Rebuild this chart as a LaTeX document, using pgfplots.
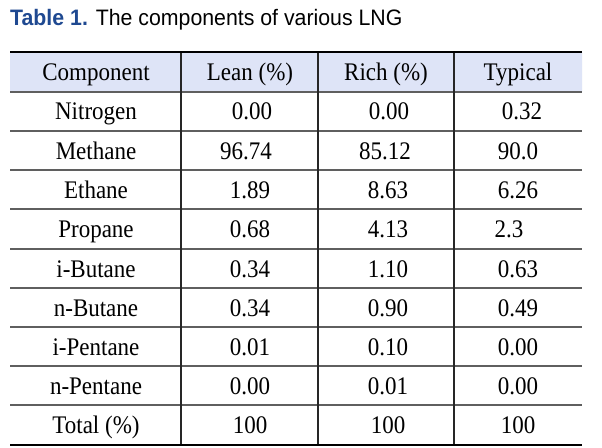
\documentclass[border=0pt]{standalone}
\usepackage{fontspec}
\setmainfont{Liberation Serif}
\newfontfamily\arialfont{Liberation Sans}
\usepackage{pgfplots}
\pgfplotsset{compat=1.18}
\definecolor{ttlblue}{RGB}{31,73,145}
\definecolor{hdrfill}{RGB}{222,228,247}
\definecolor{rule}{RGB}{95,95,95}
\begin{document}
\begin{tikzpicture}
\begin{axis}[
  width=602bp, height=448bp, scale only axis,
  xmin=0, xmax=602, ymin=0, ymax=448, y dir=reverse,
  hide axis, clip=false,
  every node near coord/.style={anchor=base, inner sep=0pt, yscale=1.1,
     font=\fontsize{23bp}{26bp}\selectfont, text=black},
]
% background
\addplot[draw=none, fill=white] coordinates {(0,0) (602,0) (602,448) (0,448) (0,0)};
% header fill
\addplot[draw=none, fill=hdrfill] coordinates {(10,52) (582,52) (582,92) (10,92) (10,52)};
% inner horizontal rules
\foreach \yy in {92,131,170,209,249,288,327,366,405} {
  \edef\temp{\noexpand\addplot[rule, line width=1.3bp, mark=none] coordinates {(10,\yy) (582,\yy)};}
  \temp
}
% vertical rules
\foreach \xx in {181,318,454} {
  \edef\temp{\noexpand\addplot[black!85, line width=1.1bp, mark=none] coordinates {(\xx,52) (\xx,445)};}
  \temp
}
% top and bottom rules
\addplot[black, line width=1.5bp, mark=none] coordinates {(10,52) (582,52)};
\addplot[black, line width=1.8bp, mark=none] coordinates {(10,445) (582,445)};
% cell texts
\addplot[draw=none, mark=none, nodes near coords, point meta=explicit symbolic] coordinates {
 (96,81) [Component] (250,81) [Lean (\%)] (386,81) [Rich (\%)] (518,81) [Typical]
 (96,120) [Nitrogen] (252,120) [0.00] (389,120) [0.00] (522,120) [0.32]
 (96,159) [Methane] (246,159) [96.74] (385,159) [85.12] (518,159) [90.0]
 (96,198) [Ethane] (250,198) [1.89] (388,198) [8.63] (518,198) [6.26]
 (96,237.5) [Propane] (250,237.5) [0.68] (388,237.5) [4.13] (509,237.5) [2.3]
 (96,277) [i-Butane] (250,277) [0.34] (388,277) [1.10] (518,277) [0.63]
 (96,316) [n-Butane] (250,316) [0.34] (388,316) [0.90] (518,316) [0.49]
 (96,355) [i-Pentane] (250,355) [0.01] (388,355) [0.10] (518,355) [0.00]
 (96,394) [n-Pentane] (250,394) [0.00] (388,394) [0.01] (518,394) [0.00]
 (96,433.5) [Total (\%)] (250,433.5) [100] (388,433.5) [100] (518,433.5) [100]
};
\node[anchor=base west, inner sep=0pt, yscale=1.05, font=\arialfont\fontsize{21.3bp}{24bp}\selectfont]
  at (axis cs:10,26) {\textcolor{ttlblue}{\bfseries Table 1.} The components of various LNG};
\end{axis}
\end{tikzpicture}
\end{document}
